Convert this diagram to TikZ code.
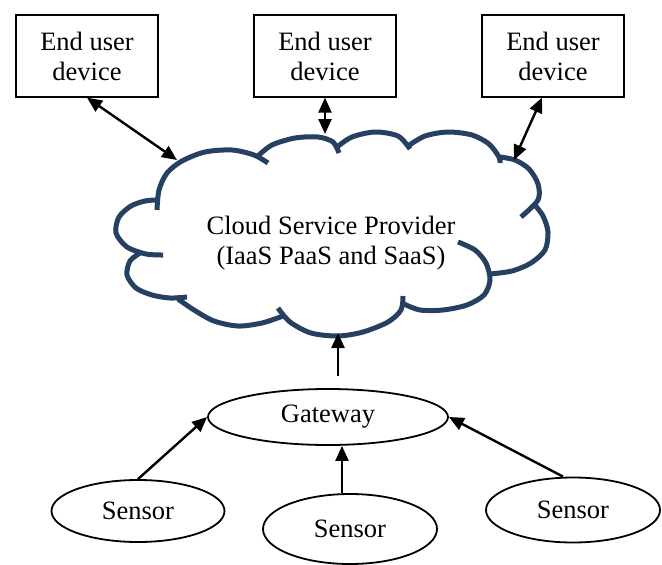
\documentclass[tikz,border=0pt]{standalone}
\usepackage{fontspec}
\setmainfont{Liberation Serif}
\usetikzlibrary{shapes.geometric, arrows.meta, positioning}
\definecolor{cloudblue}{RGB}{38,64,97}
\tikzset{
    device/.style={rectangle, draw=black, line width=1.3pt, minimum width=142pt, minimum height=82pt, inner sep=0pt, align=center, font=\fontsize{26.5}{30}\selectfont},
    oval/.style={ellipse, draw=black, line width=1.8pt, inner sep=0pt, font=\fontsize{26.5}{30}\selectfont},
    puff/.style={draw=cloudblue, line width=5pt},
    arrow/.style={line width=2.4pt, -{Triangle[length=15pt,width=13pt]}},
    dblarrow/.style={line width=2.4pt, {Triangle[length=15pt,width=13pt]}-{Triangle[length=15pt,width=13pt]}},
}

\begin{document}
\begin{tikzpicture}[x=1pt, y=-1pt]
  \useasboundingbox (0,0) rectangle (662,565);

  % end user devices
  \node[device] (b1) at (87,56) {End user\\device};
  \node[device] (b2) at (325,56) {End user\\device};
  \node[device] (b3) at (553,56) {End user\\device};

  % cloud outline, one puff at a time
  \draw[puff] plot[smooth] coordinates {(163,255) (146,254) (127,247) (116,233) (119,217) (131,206) (145,201) (156,200)};
  \draw[puff] plot[smooth] coordinates {(157,210) (159,190) (167,173) (182,161) (205,152) (232,150) (254,155) (268,163)};
  \draw[puff] plot[smooth] coordinates {(258,156) (272,145) (295,138) (318,137) (333,142) (339,153)};
  \draw[puff] plot[smooth] coordinates {(337,147) (352,137) (375,132) (398,136) (410,149)};
  \draw[puff] plot[smooth] coordinates {(408,146) (425,136) (448,132) (472,135) (489,144) (499,157) (500,163)};
  \draw[puff] plot[smooth] coordinates {(500,157) (515,160) (529,169) (538,184) (538,200) (521,217)};
  \draw[puff] plot[smooth] coordinates {(534,204) (543,216) (548,232) (545,250) (531,263) (512,271) (490,274)};
  \draw[puff] plot[smooth] coordinates {(458,242) (475,250) (486,263) (490,280) (484,295) (467,305) (443,310) (420,310) (404,304)};
  \draw[puff] plot[smooth] coordinates {(403,296) (401,310) (388,322) (363,332) (338,336) (311,333) (290,322) (278,308)};
  \draw[puff] plot[smooth] coordinates {(283,316) (262,323) (238,326) (214,321) (194,310) (178,299)};
  \draw[puff] plot[smooth] coordinates {(187,297) (170,298) (152,295) (136,288) (127,275) (130,261) (140,253)};
  \node[align=center, font=\fontsize{26.5}{30}\selectfont] (csp) at (331,243) {Cloud Service Provider\\(IaaS PaaS and SaaS)};
  \coordinate (cA) at (177,160);
  \coordinate (cB) at (325,134);
  \coordinate (cC) at (514,160);
  \coordinate (cG) at (338,333);

  % gateway and sensors
  \node[oval, minimum width=240pt, minimum height=56pt] (gw) at (328,417) {Gateway};
  \node[oval, minimum width=173pt, minimum height=62pt] (s1) at (138,511) {Sensor};
  \node[oval, minimum width=174pt, minimum height=70pt] (s2) at (350,529) {Sensor};
  \node[oval, minimum width=174pt, minimum height=65pt] (s3) at (573,510) {Sensor};

  \draw[dblarrow] (b1.south) -- (cA);
  \draw[dblarrow] (b2.south) -- (cB);
  \draw[dblarrow] ([xshift=-11pt]b3.south) -- (cC);
  \draw[arrow] ([xshift=10pt,yshift=12pt]gw.north) -- (cG);
  \draw[arrow] (s1.north) -- (gw.west);
  \draw[arrow] ([xshift=-8pt]s2.north) -- ([xshift=14pt]gw.south);
  \draw[arrow] ([xshift=-10pt]s3.north) -- (gw.east);
\end{tikzpicture}
\end{document}
